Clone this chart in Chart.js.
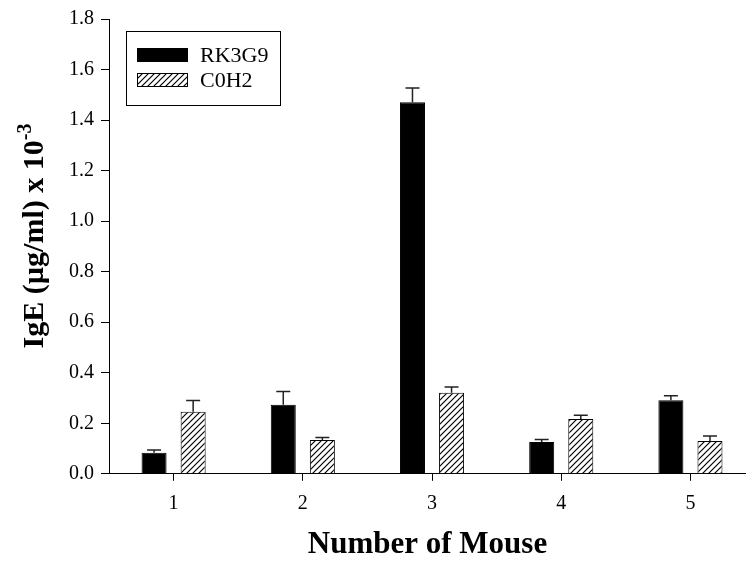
<!DOCTYPE html>
<html>
<head>
<meta charset="utf-8">
<script src="https://cdn.jsdelivr.net/npm/chart.js@4.4.1/dist/chart.umd.min.js"></script>
<style>
  body { margin: 0; background: #fff; overflow: hidden; }
</style>
</head>
<body>
<canvas id="chartIgE" width="746" height="565"></canvas>
<script>
const mouseNumbers = [1, 2, 3, 4, 5];
const rk3g9Values = [0.083, 0.273, 1.471, 0.126, 0.291];
const rk3g9Errors = [0.011, 0.053, 0.056, 0.010, 0.018];
const c0h2Values = [0.246, 0.134, 0.321, 0.217, 0.130];
const c0h2Errors = [0.044, 0.010, 0.023, 0.015, 0.020];
const yTicks = [0, 0.2, 0.4, 0.6, 0.8, 1.0, 1.2, 1.4, 1.6, 1.8];

Chart.defaults.font.family = "'Liberation Serif', 'Times New Roman', serif";
Chart.defaults.color = '#000';

// diagonal hatch like the original plot
function makeHatch(size) {
  const c = document.createElement('canvas');
  c.width = size;
  c.height = size;
  const ctx = c.getContext('2d');
  ctx.fillStyle = '#fff';
  ctx.fillRect(0, 0, size, size);
  ctx.strokeStyle = '#000';
  ctx.lineWidth = 1.2;
  ctx.beginPath();
  ctx.moveTo(-1, size + 1);
  ctx.lineTo(size + 1, -1);
  ctx.moveTo(-1, 1);
  ctx.lineTo(1, -1);
  ctx.moveTo(size - 1, size + 1);
  ctx.lineTo(size + 1, size - 1);
  ctx.stroke();
  return ctx.createPattern(c, 'repeat');
}
const hatch = makeHatch(6);

function toPoints(values) {
  return mouseNumbers.map((m, i) => ({ x: m, y: values[i] }));
}

const errorBars = {
  id: 'errorBars',
  afterDatasetsDraw(chart) {
    const ctx = chart.ctx;
    const yScale = chart.scales.y;
    const errs = [rk3g9Errors, c0h2Errors];
    ctx.save();
    ctx.strokeStyle = '#222';
    ctx.lineWidth = 1.5;
    chart.data.datasets.forEach((ds, d) => {
      const meta = chart.getDatasetMeta(d);
      meta.data.forEach((bar, i) => {
        const top = yScale.getPixelForValue(ds.data[i].y + errs[d][i]);
        ctx.beginPath();
        ctx.moveTo(bar.x, bar.y);
        ctx.lineTo(bar.x, top);
        ctx.moveTo(bar.x - 7, top);
        ctx.lineTo(bar.x + 7, top);
        ctx.stroke();
      });
    });
    ctx.restore();
  }
};

const boxLegend = {
  id: 'boxLegend',
  afterDraw(chart) {
    const ctx = chart.ctx;
    ctx.save();
    ctx.strokeStyle = '#000';
    ctx.lineWidth = 1;
    ctx.strokeRect(126.5, 31.5, 154, 74);
    ctx.font = "22px 'Liberation Serif'";
    ctx.textBaseline = 'middle';
    ctx.fillStyle = '#000';
    chart.data.datasets.forEach((ds, i) => {
      const y = 55 + i * 25;
      ctx.fillStyle = ds.backgroundColor;
      ctx.fillRect(137, y - 7, 51, 14);
      ctx.strokeRect(137.5, y - 6.5, 50, 13);
      ctx.fillStyle = '#000';
      ctx.fillText(ds.label, 200, y + 1);
    });
    ctx.restore();
  }
};

const yTitle = {
  id: 'yTitle',
  afterDraw(chart) {
    const ctx = chart.ctx;
    const main = 'IgE (\u00b5g/ml) x 10';
    const sup = '-3';
    ctx.save();
    ctx.font = "bold 30px 'Liberation Serif'";
    const w1 = ctx.measureText(main).width;
    ctx.font = "bold 20px 'Liberation Serif'";
    const w2 = ctx.measureText(sup).width;
    ctx.translate(43, 236);
    ctx.rotate(-Math.PI / 2);
    const start = -(w1 + w2) / 2;
    ctx.fillStyle = '#000';
    ctx.textBaseline = 'alphabetic';
    ctx.font = "bold 30px 'Liberation Serif'";
    ctx.fillText(main, start, 0);
    ctx.font = "bold 20px 'Liberation Serif'";
    ctx.fillText(sup, start + w1, -12);
    ctx.restore();
  }
};

new Chart(document.getElementById('chartIgE'), {
  type: 'bar',
  data: {
    datasets: [
      {
        label: 'RK3G9',
        data: toPoints(rk3g9Values),
        backgroundColor: '#000',
        borderColor: '#000',
        borderWidth: 1,
        categoryPercentage: 0.605,
        barPercentage: 0.64
      },
      {
        label: 'C0H2',
        data: toPoints(c0h2Values),
        backgroundColor: hatch,
        borderColor: '#000',
        borderWidth: 1,
        categoryPercentage: 0.605,
        barPercentage: 0.64
      }
    ]
  },
  options: {
    responsive: false,
    animation: false,
    layout: { padding: { left: 62, top: 7, right: 0, bottom: 0 } },
    plugins: {
      legend: { display: false },
      tooltip: { enabled: false }
    },
    scales: {
      x: {
        type: 'linear',
        offset: false,
        min: 0.5,
        max: 5.43,
        afterBuildTicks(scale) {
          scale.ticks = mouseNumbers.map(v => ({ value: v }));
        },
        ticks: { font: { size: 20 }, padding: 11, callback: v => String(v) },
        grid: { offset: false, drawOnChartArea: false, drawTicks: true, tickLength: 7, color: '#000' },
        border: { color: '#000', width: 1 },
        title: {
          display: true,
          text: 'Number of Mouse',
          font: { size: 31, weight: 'bold' },
          padding: { top: 0, bottom: 1 }
        }
      },
      y: {
        min: 0,
        max: 1.8,
        afterBuildTicks(scale) {
          scale.ticks = yTicks.map(v => ({ value: v }));
        },
        ticks: { font: { size: 20 }, padding: 7, callback: v => v.toFixed(1) },
        grid: { drawOnChartArea: false, drawTicks: true, tickLength: 8, color: '#000' },
        border: { color: '#000', width: 1 }
      }
    }
  },
  plugins: [errorBars, boxLegend, yTitle]
});
</script>
</body>
</html>
